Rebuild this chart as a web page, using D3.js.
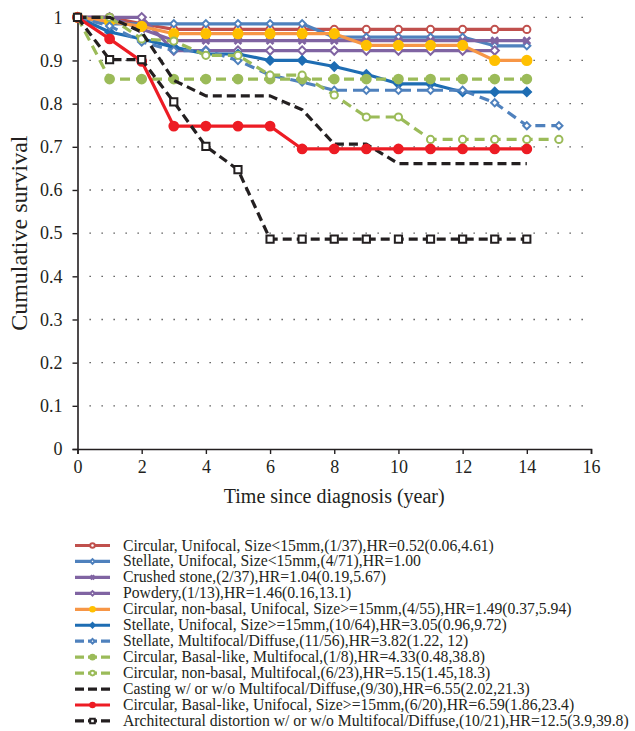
<!DOCTYPE html>
<html lang="en">
<head>
<meta charset="utf-8">
<title>Cumulative survival</title>
<script src="https://cdn.jsdelivr.net/npm/d3@7"></script>
<style>
	body { margin: 0; background: #fff; }
	text { font-family: "Liberation Serif", "DejaVu Serif", serif; fill: #231f20; }
</style>
</head>
<body>
<script>

var width = 635;
var height = 731;

// years on the x axis
var years = [0, 1, 2, 3, 4, 5, 6, 7, 8, 9, 10, 11, 12, 13, 14, 15];

// survival, one value per year
var circUniSmall = [1, 1, 0.985, 0.972, 0.972, 0.972, 0.972, 0.972, 0.972, 0.972, 0.972, 0.972, 0.972, 0.972, 0.972];
var stelUniSmall = [1, 0.985, 0.985, 0.985, 0.985, 0.985, 0.985, 0.985, 0.954, 0.954, 0.954, 0.954, 0.954, 0.934, 0.934];
var crushedStone = [1, 1, 0.973, 0.946, 0.946, 0.946, 0.946, 0.946, 0.946, 0.946, 0.946, 0.946, 0.946, 0.946, 0.946];
var powdery = [1, 1, 1, 0.923, 0.923, 0.923, 0.923, 0.923, 0.923, 0.923, 0.923, 0.923, 0.923, 0.923];
var circNonBasalUniLarge = [1, 0.99, 0.979, 0.962, 0.962, 0.962, 0.962, 0.962, 0.962, 0.935, 0.935, 0.935, 0.935, 0.9, 0.9];
var stelUniLarge = [1, 0.966, 0.95, 0.931, 0.915, 0.915, 0.9, 0.9, 0.886, 0.868, 0.846, 0.846, 0.827, 0.827, 0.827];
var stelMulti = [1, 0.98, 0.943, 0.923, 0.923, 0.9, 0.866, 0.85, 0.831, 0.831, 0.831, 0.831, 0.831, 0.802, 0.749, 0.749];
var circBasalMulti = [1, 0.857, 0.857, 0.857, 0.857, 0.857, 0.857, 0.857, 0.857, 0.857, 0.857, 0.857, 0.857, 0.857, 0.857];
var circNonBasalMulti = [1, 1, 0.95, 0.945, 0.912, 0.912, 0.866, 0.866, 0.82, 0.769, 0.769, 0.717, 0.717, 0.717, 0.717, 0.717];
var casting = [1, 1, 0.966, 0.854, 0.818, 0.818, 0.818, 0.786, 0.706, 0.706, 0.661, 0.661, 0.661, 0.661, 0.661];
var circBasalUniLarge = [1, 0.95, 0.898, 0.748, 0.748, 0.748, 0.748, 0.695, 0.695, 0.695, 0.695, 0.695, 0.695, 0.695, 0.695];
var archDistortion = [1, 0.902, 0.902, 0.804, 0.701, 0.647, 0.486, 0.486, 0.486, 0.486, 0.486, 0.486, 0.486, 0.486, 0.486];

var seriesNames = [
	"Circular, Unifocal, Size<15mm,(1/37),HR=0.52(0.06,4.61)",
	"Stellate, Unifocal, Size<15mm,(4/71),HR=1.00",
	"Crushed stone,(2/37),HR=1.04(0.19,5.67)",
	"Powdery,(1/13),HR=1.46(0.16,13.1)",
	"Circular, non-basal, Unifocal, Size>=15mm,(4/55),HR=1.49(0.37,5.94)",
	"Stellate, Unifocal, Size>=15mm,(10/64),HR=3.05(0.96,9.72)",
	"Stellate, Multifocal/Diffuse,(11/56),HR=3.82(1.22, 12)",
	"Circular, Basal-like, Multifocal,(1/8),HR=4.33(0.48,38.8)",
	"Circular, non-basal, Multifocal,(6/23),HR=5.15(1.45,18.3)",
	"Casting w/ or w/o Multifocal/Diffuse,(9/30),HR=6.55(2.02,21.3)",
	"Circular, Basal-like, Unifocal, Size>=15mm,(6/20),HR=6.59(1.86,23.4)",
	"Architectural distortion w/ or w/o Multifocal/Diffuse,(10/21),HR=12.5(3.9,39.8)"
];
var seriesValues = [circUniSmall, stelUniSmall, crushedStone, powdery, circNonBasalUniLarge, stelUniLarge,
	stelMulti, circBasalMulti, circNonBasalMulti, casting, circBasalUniLarge, archDistortion];

var xTicks = [0, 2, 4, 6, 8, 10, 12, 14, 16];
var yTicks = [0, 0.1, 0.2, 0.3, 0.4, 0.5, 0.6, 0.7, 0.8, 0.9, 1];
var yTickLabels = ["0", "0.1", "0.2", "0.3", "0.4", "0.5", "0.6", "0.7", "0.8", "0.9", "1"];

// how each series is drawn (same order as above)
var styles = [
	{line: "#c0504d", dash: null, marker: "circle", fill: "#fff", stroke: "#c0504d", size: 3.6},
	{line: "#4f81bd", dash: null, marker: "diamond", fill: "#fff", stroke: "#4f81bd", size: 3.6},
	{line: "#8064a2", dash: null, marker: "cross", fill: "#8064a2", stroke: "#8064a2", size: 3.8},
	{line: "#8064a2", dash: null, marker: "diamond", fill: "#fff", stroke: "#8064a2", size: 4.2},
	{line: "#f79646", dash: null, marker: "circle", fill: "#ffc000", stroke: "#ffc000", size: 4.6},
	{line: "#1e6db3", dash: null, marker: "diamond", fill: "#1e6db3", stroke: "#1e6db3", size: 4.2},
	{line: "#4f81bd", dash: "10,6", marker: "diamond", fill: "#fff", stroke: "#4f81bd", size: 3.6},
	{line: "#9bbb59", dash: "10,6", marker: "circle", fill: "#9bbb59", stroke: "#9bbb59", size: 4.4},
	{line: "#9bbb59", dash: "10,6", marker: "circle", fill: "#fff", stroke: "#9bbb59", size: 3.6},
	{line: "#231f20", dash: "9,5", marker: null},
	{line: "#ed1c24", dash: null, marker: "circle", fill: "#ed1c24", stroke: "#ed1c24", size: 4.4},
	{line: "#231f20", dash: "9,5", marker: "square", fill: "#fff", stroke: "#231f20", size: 3.6}
];

var svg = d3.select("body")
	.append("svg")
	.attr("width", width)
	.attr("height", height);

var xScale = d3.scaleLinear().domain([0, 16]).range([77.5, 591]);
var yScale = d3.scaleLinear().domain([0, 1]).range([449, 17.3]);

// dotted grid
svg.append("g").selectAll("line")
	.data(yTicks.slice(1))
	.enter()
	.append("line")
	.attr("x1", xScale(0) + 12)
	.attr("x2", xScale(16))
	.attr("y1", function(d) { return yScale(d); })
	.attr("y2", function(d) { return yScale(d); })
	.attr("stroke", "#444")
	.attr("stroke-width", 1.3)
	.attr("stroke-dasharray", "1.3,10.7");

// axes
var xAxis = d3.axisBottom(xScale).tickValues(xTicks).tickSize(5).tickPadding(6)
	.tickFormat(function(d) { return d; });
var yAxis = d3.axisLeft(yScale).tickValues(yTicks).tickSize(5).tickPadding(10)
	.tickFormat(function(d, i) { return yTickLabels[i]; });

var gx = svg.append("g").attr("transform", "translate(0," + yScale(0) + ")").call(xAxis);
var gy = svg.append("g").attr("transform", "translate(" + xScale(0) + ",0)").call(yAxis);
[gx, gy].forEach(function(g) {
	g.select(".domain").attr("stroke", "#231f20").attr("stroke-width", 1.6);
	g.selectAll(".tick line").attr("stroke", "#231f20").attr("stroke-width", 1.4);
	g.selectAll(".tick text").attr("font-family", "Liberation Serif").attr("font-size", 18).attr("fill", "#231f20");
});

svg.append("text")
	.attr("x", (xScale(0) + xScale(16)) / 2)
	.attr("y", 503)
	.attr("text-anchor", "middle")
	.attr("font-size", 20)
	.text("Time since diagnosis (year)");

svg.append("text")
	.attr("transform", "translate(27," + yScale(0.5) + ") rotate(-90)")
	.attr("text-anchor", "middle")
	.attr("font-size", 24)
	.text("Cumulative survival");

function markerPath(type, r) {
	if (type == "circle") return d3.symbol().type(d3.symbolCircle).size(Math.PI * r * r)();
	if (type == "square") return d3.symbol().type(d3.symbolSquare).size(4 * r * r)();
	if (type == "diamond") return d3.symbol().type(d3.symbolSquare).size(2 * r * r)();
	if (type == "cross") return d3.symbol().type(d3.symbolTimes).size(2.2 * r * r)();
	return null;
}

function drawMarker(sel, st, r) {
	sel.append("path")
		.attr("d", markerPath(st.marker, r))
		.attr("transform", function(d) {
			return "translate(" + d.x + "," + d.y + ")" + (st.marker == "diamond" ? " rotate(45)" : "");
		})
		.attr("fill", st.marker == "cross" ? "none" : st.fill)
		.attr("stroke", st.stroke)
		.attr("stroke-width", st.marker == "cross" ? 2.8 : 2);
}

var line = d3.line()
	.x(function(d, i) { return xScale(years[i]); })
	.y(function(d) { return yScale(d); });

seriesValues.forEach(function(vals, k) {
	var st = styles[k];
	var g = svg.append("g");
	g.append("path")
		.attr("d", line(vals))
		.attr("fill", "none")
		.attr("stroke", st.line)
		.attr("stroke-width", 3.2)
		.attr("stroke-dasharray", st.dash)
		.attr("stroke-linejoin", "round");
	if (st.marker) {
		var pts = vals.map(function(v, i) { return {x: xScale(years[i]), y: yScale(v)}; });
		g.selectAll("g.pt").data(pts).enter().append("g").attr("class", "pt")
			.each(function(d) { drawMarker(d3.select(this).datum(d), st, st.size); });
	}
});

// legend
var legend = svg.append("g");
seriesNames.forEach(function(name, k) {
	var st = styles[k];
	var y = 545.5 + k * 15.95;
	legend.append("line")
		.attr("x1", 75).attr("x2", 110)
		.attr("y1", y).attr("y2", y)
		.attr("stroke", st.line)
		.attr("stroke-width", 3.2)
		.attr("stroke-dasharray", st.dash ? "9,4" : null);
	if (st.marker) {
		var mg = legend.append("g").datum({x: 92.5, y: y});
		drawMarker(mg, st, 2.3);
	}
	legend.append("text")
		.attr("x", 123)
		.attr("y", y + 5)
		.attr("font-size", 15.7)
		.text(name);
});

</script>
</body>
</html>
